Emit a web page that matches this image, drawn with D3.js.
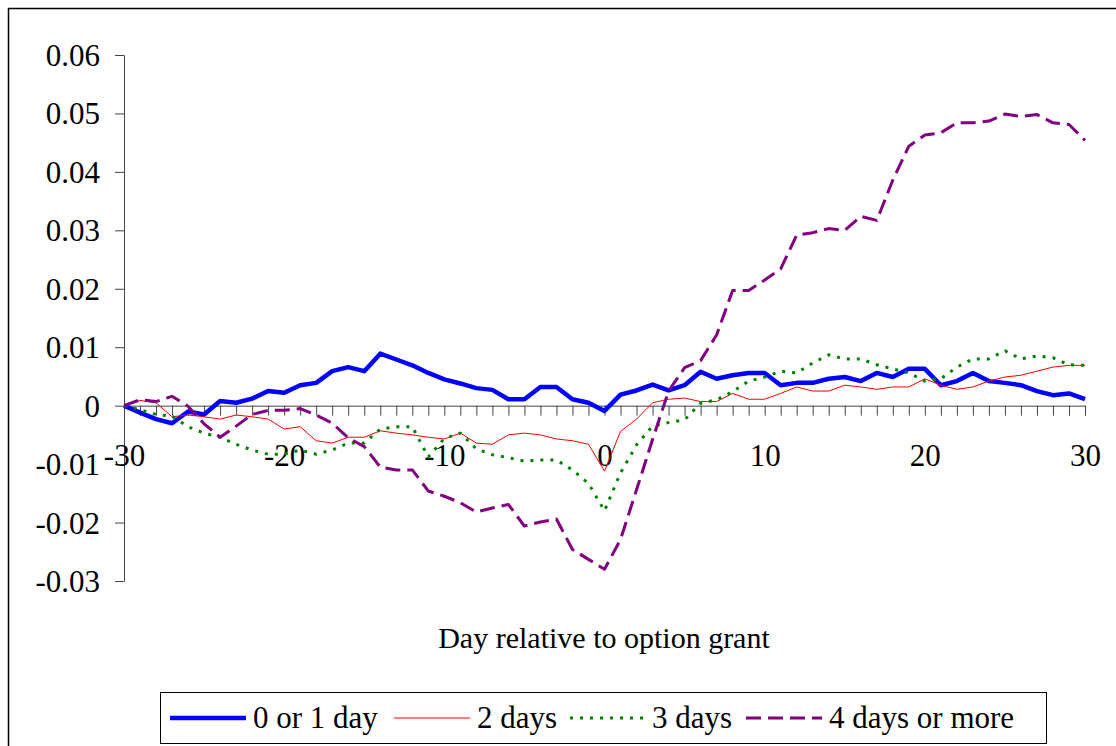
<!DOCTYPE html>
<html>
<head>
<meta charset="utf-8">
<script src="https://cdn.jsdelivr.net/npm/d3@7"></script>
<style>
  body { margin: 0; background: #fff; }
  svg text { font-family: "Liberation Serif", "Times New Roman", serif; fill: #000; }
</style>
</head>
<body>
<div id="chart"></div>
<script>
// days relative to option grant
const days = d3.range(-30, 31);

const seriesNames = ['0 or 1 day', '2 days', '3 days', '4 days or more'];

const oneDay = [
  0, -0.0012, -0.0023, -0.003, -0.001, -0.0015, 0.0008, 0.0005, 0.0012, 0.0025,
  0.0022, 0.0035, 0.0039, 0.0059, 0.0066, 0.0059, 0.0089, 0.0079, 0.0069, 0.0056,
  0.0045, 0.0038, 0.003, 0.0027, 0.0011, 0.0011, 0.0032, 0.0032, 0.0011, 0.0005,
  -0.0009, 0.0019, 0.0026, 0.0036, 0.0026, 0.0035, 0.0058, 0.0046, 0.0052, 0.0056,
  0.0056, 0.0035, 0.0039, 0.0039, 0.0046, 0.0049, 0.0042, 0.0056, 0.0049, 0.0063,
  0.0063, 0.0035, 0.0042, 0.0056, 0.0042, 0.0039, 0.0035, 0.0025, 0.0018, 0.0021,
  0.0011
];

const twoDays = [
  0, 0.0009, 0.0005, -0.0019, -0.0016, -0.0019, -0.0023, -0.0016, -0.0019, -0.0023,
  -0.004, -0.0036, -0.006, -0.0064, -0.0054, -0.0054, -0.0043, -0.0047, -0.005, -0.0054,
  -0.0057, -0.0047, -0.0064, -0.0066, -0.005, -0.0047, -0.005, -0.0057, -0.006, -0.0066,
  -0.0112, -0.0044, -0.0023, 0.0005, 0.0011, 0.0013, 0.0007, 0.0007, 0.0021, 0.0011,
  0.0011, 0.0021, 0.0032, 0.0025, 0.0025, 0.0035, 0.0032, 0.0028, 0.0032, 0.0032,
  0.0046, 0.0035, 0.0028, 0.0032, 0.0042, 0.0049, 0.0052, 0.0059, 0.0066, 0.0069,
  0.0069
];

const threeDays = [
  0, -0.0007, -0.0015, -0.0018, -0.0036, -0.0047, -0.0054, -0.0066, -0.0076, -0.0083,
  -0.0083, -0.0076, -0.0083, -0.0076, -0.0064, -0.0064, -0.004, -0.0036, -0.0036, -0.0088,
  -0.0056, -0.0047, -0.0074, -0.0084, -0.0089, -0.0095, -0.0093, -0.0093, -0.011, -0.0133,
  -0.018, -0.0115, -0.0067, -0.0035, -0.0029, -0.0024, 0.0004, 0.001, 0.0024, 0.0042,
  0.0049, 0.0059, 0.0056, 0.0073, 0.0087, 0.008, 0.008, 0.007, 0.0063, 0.0056,
  0.0042, 0.0046, 0.0066, 0.008, 0.008, 0.0094, 0.008, 0.0085, 0.0082, 0.007,
  0.0069
];

const fourDays = [
  0, 0.001, 0.0007, 0.0016, -0.0001, -0.0031, -0.0054, -0.0035, -0.0015, -0.0008,
  -0.0008, -0.0005, -0.0016, -0.003, -0.0055, -0.007, -0.0105, -0.011, -0.011, -0.0146,
  -0.0155, -0.0166, -0.0182, -0.0175, -0.0169, -0.0206, -0.0199, -0.0194, -0.0246, -0.0263,
  -0.028, -0.0229, -0.0144, -0.0058, 0.0025, 0.0065, 0.0077, 0.0121, 0.0197, 0.0197,
  0.0215, 0.0234, 0.0292, 0.0296, 0.0303, 0.03, 0.0324, 0.0317, 0.0386, 0.0444,
  0.0463, 0.0467, 0.0484, 0.0484, 0.0487, 0.0499, 0.0495, 0.0498, 0.0484, 0.0481,
  0.0454
];

const xTickLabels = [-30, -20, -10, 0, 10, 20, 30];
const yTickValues = [-0.03, -0.02, -0.01, 0, 0.01, 0.02, 0.03, 0.04, 0.05, 0.06];

const W = 1116, H = 746;
const fontSize = 31;

const styles = [
  { color: '#0000ff', width: 4.5, dash: null },
  { color: '#ff0000', width: 1, dash: null },
  { color: '#008000', width: 3, dash: '3,7' },
  { color: '#800080', width: 3, dash: '15,7' }
];

const allSeries = [oneDay, twoDays, threeDays, fourDays];

let svg = d3.select('#chart')
  .append('svg')
  .attr('width', W)
  .attr('height', H);

// chart area border (runs off the right and bottom edges)
svg.append('rect')
  .attr('x', 8.5)
  .attr('y', 8.5)
  .attr('width', W + 20)
  .attr('height', H + 20)
  .attr('fill', 'none')
  .attr('stroke', '#000')
  .attr('stroke-width', 1.5);

const xScale = d3.scaleLinear()
  .domain([-30, 30])
  .range([124, 1085]);

const yScale = d3.scaleLinear()
  .domain([-0.03, 0.06])
  .range([581, 55]);

// y axis
const yAxis = d3.axisLeft(yScale)
  .tickValues(yTickValues)
  .tickSizeInner(9)
  .tickSizeOuter(0)
  .tickPadding(15)
  .tickFormat(d => {
    let v = Math.round(d * 100) / 100;
    return v === 0 ? '0' : v.toFixed(2);
  });

let gy = svg.append('g')
  .attr('transform', `translate(${xScale(-30)},0)`)
  .call(yAxis);
gy.selectAll('text')
  .style('font-size', fontSize + 'px')
  .style('font-family', '"Liberation Serif", serif')
  .attr('dy', '0.34em');
gy.selectAll('line, path').attr('stroke', '#444');

// x axis ticks at every day, sitting on the zero line
const xAxisTicks = d3.axisBottom(xScale)
  .tickValues(days)
  .tickSizeInner(10)
  .tickSizeOuter(0)
  .tickFormat('');

let gx = svg.append('g')
  .attr('transform', `translate(0,${yScale(0)})`)
  .call(xAxisTicks);
gx.selectAll('line, path').attr('stroke', '#444');

// x labels drawn well below the zero line
const xAxisLabels = d3.axisBottom(xScale)
  .tickValues(xTickLabels)
  .tickSize(0)
  .tickPadding(38)
  .tickFormat(d => String(d));

let gxl = svg.append('g')
  .attr('transform', `translate(0,${yScale(0)})`)
  .call(xAxisLabels);
gxl.select('.domain').remove();
gxl.selectAll('text')
  .style('font-size', fontSize + 'px')
  .style('font-family', '"Liberation Serif", serif');

// lines
const line = d3.line()
  .x((d, i) => xScale(days[i]))
  .y(d => yScale(d));

allSeries.forEach((values, i) => {
  let p = svg.append('path')
    .datum(values)
    .attr('d', line)
    .attr('fill', 'none')
    .attr('stroke', styles[i].color)
    .attr('stroke-width', styles[i].width)
    .attr('stroke-linejoin', 'round');
  if (styles[i].dash) p.attr('stroke-dasharray', styles[i].dash);
});

// axis title
svg.append('text')
  .attr('x', 604)
  .attr('y', 648)
  .attr('text-anchor', 'middle')
  .style('font-size', '30px')
  .text('Day relative to option grant');

// legend
svg.append('rect')
  .attr('x', 160.5)
  .attr('y', 692.5)
  .attr('width', 886)
  .attr('height', 51)
  .attr('fill', '#fff')
  .attr('stroke', '#000')
  .attr('stroke-width', 1);

const legendX = [170, 394, 570, 746];
seriesNames.forEach((name, i) => {
  let g = svg.append('g').attr('transform', `translate(${legendX[i]},718)`);
  let l = g.append('line')
    .attr('x1', 0)
    .attr('x2', i === 2 ? 78 : 76)
    .attr('y1', 0)
    .attr('y2', 0)
    .attr('stroke', styles[i].color)
    .attr('stroke-width', styles[i].width);
  if (styles[i].dash) l.attr('stroke-dasharray', styles[i].dash);
  g.append('text')
    .attr('x', i === 2 ? 82 : 83)
    .attr('y', 10)
    .style('font-size', fontSize + 'px')
    .text(name);
});
</script>
</body>
</html>
